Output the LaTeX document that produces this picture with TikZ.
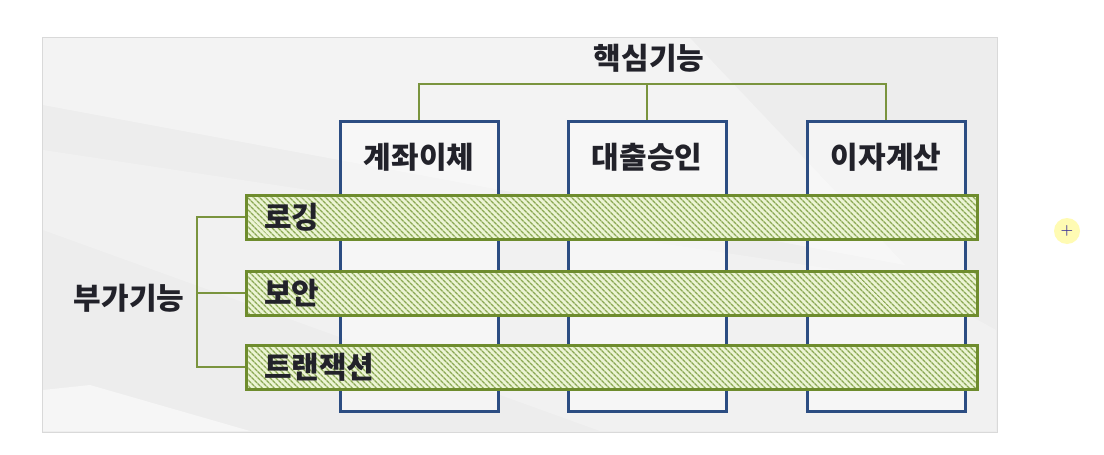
\documentclass[tikz,border=0pt]{standalone}
\usepackage{fontspec}
\newfontfamily\kr{Noto Sans CJK KR}
\usepackage{tikz}
\usetikzlibrary{positioning,patterns.meta}
\definecolor{boxblue}{RGB}{44,77,130}
\definecolor{barline}{RGB}{110,140,45}
\definecolor{barfill}{RGB}{236,244,212}
\definecolor{barstripe}{RGB}{138,168,84}
\definecolor{busgreen}{RGB}{122,148,62}
\definecolor{txtgray}{RGB}{34,34,42}

\begin{document}
\begin{tikzpicture}[x=1pt,y=-1pt,
    corebox/.style={draw=boxblue,line width=3pt,fill=white,fill opacity=0.4,draw opacity=1,minimum width=158pt,minimum height=290pt,inner sep=0pt},
    bar/.style={draw=barline,line width=3pt,preaction={fill=barfill},pattern={Lines[angle=-45,distance=4pt,line width=1.4pt]},pattern color=barstripe,minimum height=44pt,text width=695pt,inner xsep=18pt,inner ysep=0pt,align=left,text=txtgray,font=\kr\bfseries\fontsize{30}{34}\selectfont},
    lbl/.style={text=txtgray,inner sep=0pt,font=\kr\bfseries\fontsize{30}{34}\selectfont},
    bus/.style={draw=busgreen,line width=1.5pt}]
        \useasboundingbox (0,0) rectangle (1104,455);
        \fill[white] (0,0) rectangle (1104,455);
        % background panel
        \draw[draw=black!15,fill=black!7] (42,37) rectangle (997,432);
        \fill[white,opacity=0.35] (43,38) -- (690,38) -- (905,265) -- (43,105) -- cycle;
        \fill[white,opacity=0.25] (43,150) -- (905,280) -- (996,330) -- (996,431) -- (600,431) -- (43,230) -- cycle;
        \fill[white,opacity=0.5] (43,390) -- (90,385) -- (250,431) -- (43,431) -- cycle;
        % core functions
        \node[corebox] (transfer) at (419,266) {};
        \node[corebox] (loan) at (647,266) {};
        \node[corebox] (interest) at (886,266) {};
        \node[lbl] (transferlbl) at ([yshift=-38pt]transfer.north) {계좌이체};
        \node[lbl] (loanlbl) at ([yshift=-38pt]loan.north) {대출승인};
        \node[lbl] (interestlbl) at ([yshift=-38pt]interest.north) {이자계산};
        \node[lbl] (core) at (649,58) {핵심기능};
        \coordinate (corebus) at (648,84);
        \draw[bus] (transfer.north) |- (corebus) -| (interest.north);
        \draw[bus] (loan.north) -- (loan.north |- corebus);
        % additional functions
        \node[bar] (logging) at (611.5,217) {로깅};
        \node[bar] (security) at (611.5,293) {보안};
        \node[bar] (transaction) at (611.5,367) {트랜잭션};
        \node[lbl] (extra) at (129,298) {부가기능};
        \coordinate (extrabus) at (197,293);
        \draw[bus] (logging.west) -| (extrabus) |- (transaction.west);
        \draw[bus] (security.west) -- (extrabus);
        % cursor
        \node[circle,fill=yellow!30,minimum size=26pt,inner sep=0pt,text={rgb,255:red,60;green,50;blue,150},font=\bfseries\Large] (cursor) at (1067,231) {+};
\end{tikzpicture}
\end{document}
